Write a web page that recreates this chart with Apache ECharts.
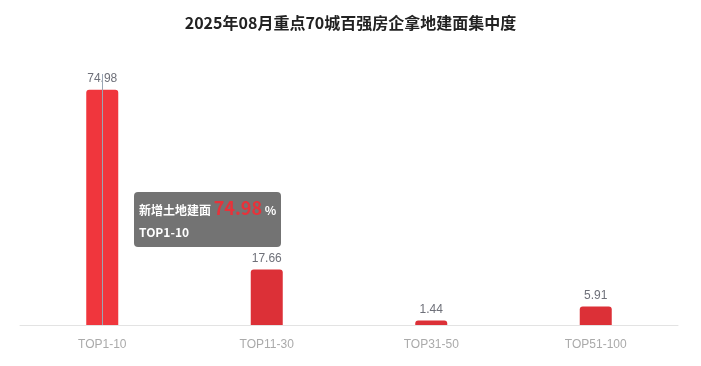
<!DOCTYPE html>
<html><head><meta charset="utf-8">
<script src="https://cdn.jsdelivr.net/npm/echarts@6/dist/echarts.min.js"></script>
<style>html,body{margin:0;padding:0;background:#fff}#c{width:701px;height:366px}</style>
</head><body><div id="c"></div>
<script>
const categories = ['TOP1-10', 'TOP11-30', 'TOP31-50', 'TOP51-100'];
const values = [74.98, 17.66, 1.44, 5.91];
const seriesName = '新增土地建面';
const titleText = '2025年08月重点70城百强房企拿地建面集中度';

const chart = echarts.init(document.getElementById('c'));
chart.setOption({
  animation: false,
  title: {
    text: titleText, left: 'center', top: 10,
    textStyle: { fontSize: 16, fontWeight: 'bold', color: '#222', fontFamily: 'Noto Sans CJK SC' }
  },
  grid: { left: 20, right: 23, top: 74, bottom: 41 },
  tooltip: {
    trigger: 'axis',
    backgroundColor: 'rgba(100,100,100,0.9)',
    borderWidth: 0,
    padding: [4, 5],
    extraCssText: 'border-radius:4px;box-shadow:none;',
    textStyle: { color: '#fff', fontSize: 12 },
    axisPointer: { type: 'line', lineStyle: { color: '#9aa6b4', width: 1, type: 'solid' } },
    position: function () { return [134, 192]; },
    formatter: function (params) {
      const p = params[0];
      return '<div style="font-family:Noto Sans CJK SC;font-weight:bold;line-height:22px;font-size:12px">' + p.seriesName +
        ' <span style="color:#e8323a;font-size:18px;font-weight:bold">' + p.value.toFixed(2) +
        '</span> %<br/>' + p.name + '</div>';
    }
  },
  xAxis: {
    type: 'category', data: categories,
    axisLine: { lineStyle: { color: '#e3e3e3' } },
    axisTick: { alignWithLabel: true, lineStyle: { color: '#e3e3e3' } },
    axisLabel: { color: '#aaa', fontSize: 12, margin: 14 }
  },
  yAxis: { type: 'value', min: 0, max: 80, show: false },
  series: [{
    name: seriesName, type: 'bar', data: values, barWidth: 32,
    itemStyle: { color: '#dc3037', borderRadius: [3, 3, 0, 0] },
    emphasis: { itemStyle: { color: '#f0363d' } },
    label: { show: true, position: 'top', color: '#6e7079', fontSize: 12 }
  }]
});
chart.dispatchAction({ type: 'showTip', seriesIndex: 0, dataIndex: 0 });
</script></body></html>
